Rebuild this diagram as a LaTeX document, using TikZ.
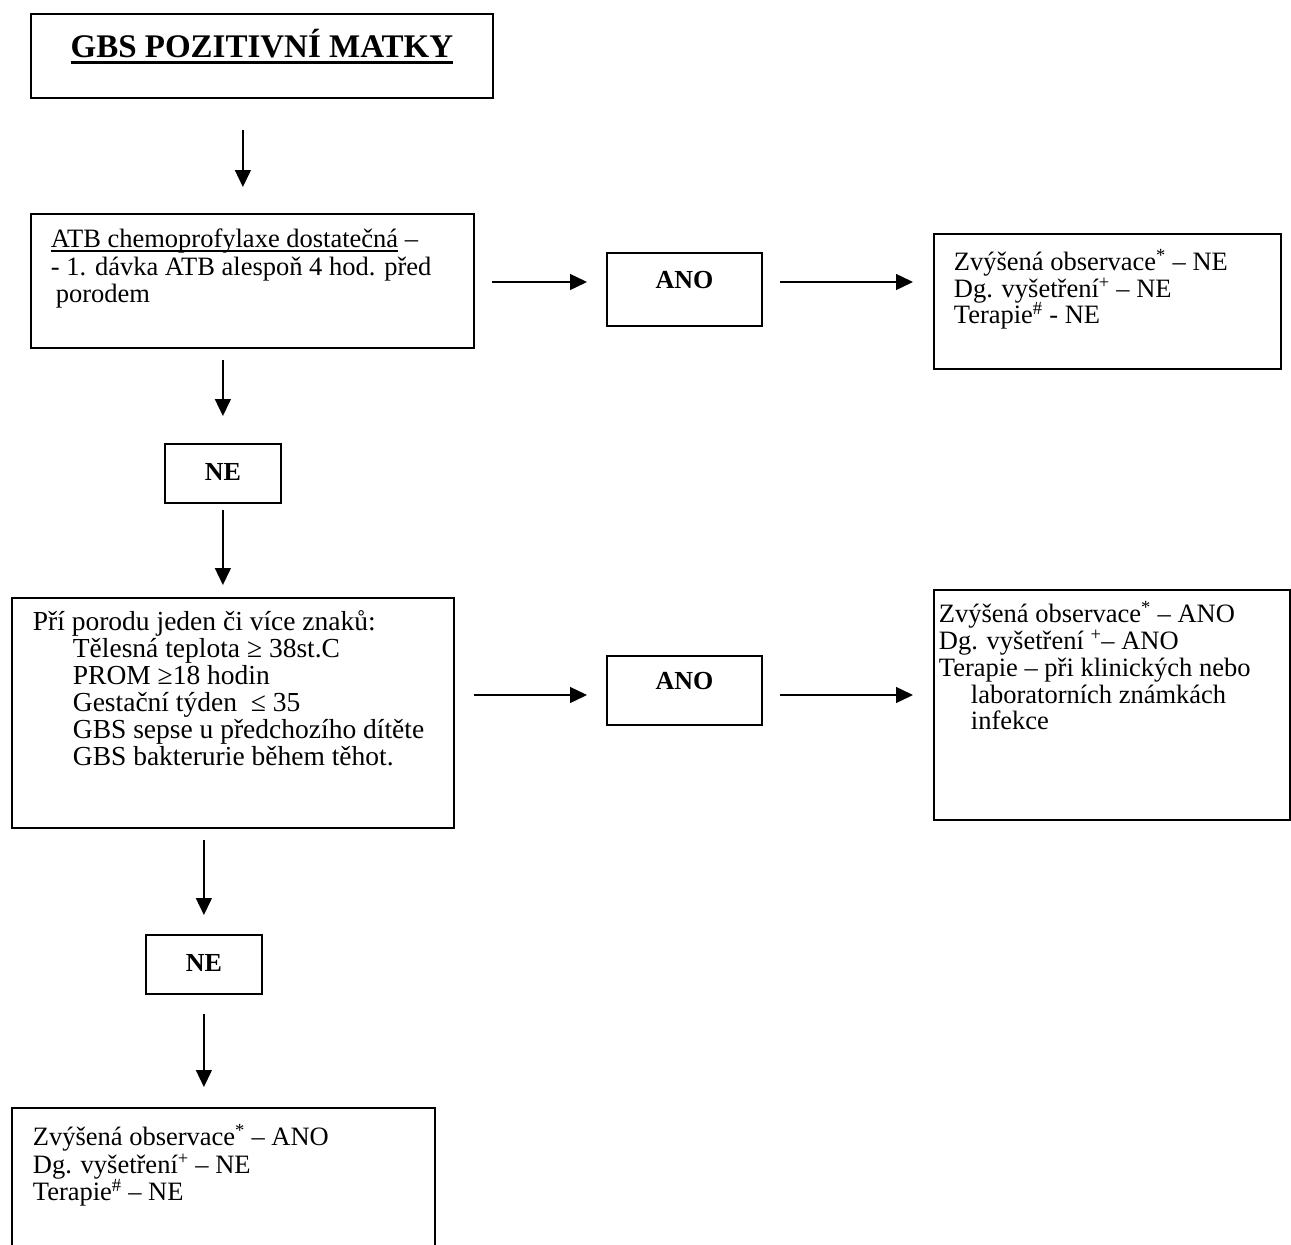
\documentclass[tikz,border=0pt]{standalone}
\usepackage{fontspec}
\setmainfont{Liberation Serif}
\usetikzlibrary{arrows.meta,positioning}
% box content: width, height, first baseline, indent, text
\newcommand{\boxin}[5]{\parbox[c][#2][t]{#1}{\raggedright\leftskip=#4\relax
  \lineskiplimit=-100pt\rule{0pt}{#3}#5}}
\newcommand{\boxmid}[4]{\parbox[c][#2][t]{#1}{\centering
  \rule{0pt}{#3}#4}}
% underline: gap, thickness, text
\newcommand{\uln}[3]{\vtop{\hbox{\raisebox{0pt}[\height][0pt]{#3}}\kern#1\hrule height #2\relax}}
\newcommand{\ind}{\hspace*{40pt}}

\begin{document}
\begin{tikzpicture}[x=1pt,y=-1pt,
          box/.style={draw,line width=1.8pt,anchor=north west,inner sep=0pt},
          arr/.style={line width=1.4pt,-{Triangle[length=17pt,width=16pt]}},
          txt/.style={font=\fontsize{27.5}{27.5}\selectfont},
          restxt/.style={font=\fontsize{26.5}{26.5}\selectfont},
          lbl/.style={font=\fontsize{26}{26}\selectfont\bfseries}]
  \useasboundingbox (0,0) rectangle (1291,1245);
  % boxes
  \node[box,font=\fontsize{33}{33}\selectfont\bfseries](matky) at (30,13)
    {\boxmid{462pt}{84pt}{44pt}{\uln{3pt}{3pt}{GBS POZITIVNÍ MATKY}}};
  \node[box,restxt](atb) at (30,213)
    {\boxin{443pt}{134pt}{34pt}{20pt}{\baselineskip=27.5pt
     \uln{2.5pt}{1.3pt}{ATB chemoprofylaxe dostatečná} –\\
     - 1. dávka ATB alespoň 4 hod. před\\
     \hspace*{5pt}porodem}};
  \node[box,lbl](ano1) at (606,252)
    {\boxmid{155pt}{73pt}{36pt}{ANO}};
  \node[box,restxt](res1) at (933,233)
    {\boxin{347pt}{135pt}{37pt}{20pt}{\baselineskip=26.5pt
     Zvýšená observace\textsuperscript{*} – NE\\
     Dg. vyšetření\textsuperscript{+} – NE\\
     Terapie\textsuperscript{\#} - NE}};
  \node[box,lbl](ne1) at (164,443)
    {\boxmid{116pt}{59pt}{37pt}{NE}};
  \node[box,txt](znaky) at (11,597)
    {\boxin{442pt}{230pt}{33pt}{21pt}{\baselineskip=27pt
     Pří porodu jeden či více znaků:\\
     \ind Tělesná teplota ≥ 38st.C\\
     \ind PROM ≥18 hodin\\
     \ind Gestační týden \ ≤ 35\\
     \ind GBS sepse u předchozího dítěte\\
     \ind GBS bakterurie během těhot.}};
  \node[box,lbl](ano2) at (606,655)
    {\boxmid{155pt}{69pt}{34pt}{ANO}};
  \node[box,restxt](res2) at (933,589)
    {\boxin{356pt}{230pt}{33pt}{5pt}{\baselineskip=26.7pt
     Zvýšená observace\textsuperscript{*} – ANO\\
     Dg. vyšetření \textsuperscript{+}– ANO\\
     Terapie – při klinických nebo\\
     \hspace*{32pt}laboratorních známkách\\
     \hspace*{32pt}infekce}};
  \node[box,lbl](ne2) at (145,934)
    {\boxmid{116pt}{59pt}{37pt}{NE}};
  \node[box,restxt](res3) at (11,1107)
    {\boxin{423pt}{160pt}{38pt}{21pt}{\baselineskip=27.5pt
     Zvýšená observace\textsuperscript{*} – ANO\\
     Dg. vyšetření\textsuperscript{+} – NE\\
     Terapie\textsuperscript{\#} – NE}};
  % row levels of the horizontal arrows
  \coordinate (row1) at (0,282);
  \coordinate (row2) at (0,695);
  % arrows
  \draw[arr,shorten <=31pt,shorten >=26pt]
    ([xshift=-19pt]matky.south) -- ([xshift=-19pt]matky.south |- atb.north);
  \draw[arr,shorten <=11pt,shorten >=27pt] (atb.south -| ne1) -- (ne1.north);
  \draw[arr,shorten <=6pt,shorten >=12pt] (ne1.south) -- (ne1.south |- znaky.north);
  \draw[arr,shorten <=11pt,shorten >=19pt] (znaky.south -| ne2) -- (ne2.north);
  \draw[arr,shorten <=19pt,shorten >=20pt] (ne2.south) -- (ne2.south |- res3.north);
  \draw[arr,shorten <=17pt,shorten >=19pt] (atb.east |- row1) -- (ano1.west |- row1);
  \draw[arr,shorten <=17pt,shorten >=20pt] (ano1.east |- row1) -- (res1.west |- row1);
  \draw[arr,shorten <=19pt,shorten >=19pt] (znaky.east |- row2) -- (ano2.west |- row2);
  \draw[arr,shorten <=17pt,shorten >=20pt] (ano2.east |- row2) -- (res2.west |- row2);
\end{tikzpicture}
\end{document}
